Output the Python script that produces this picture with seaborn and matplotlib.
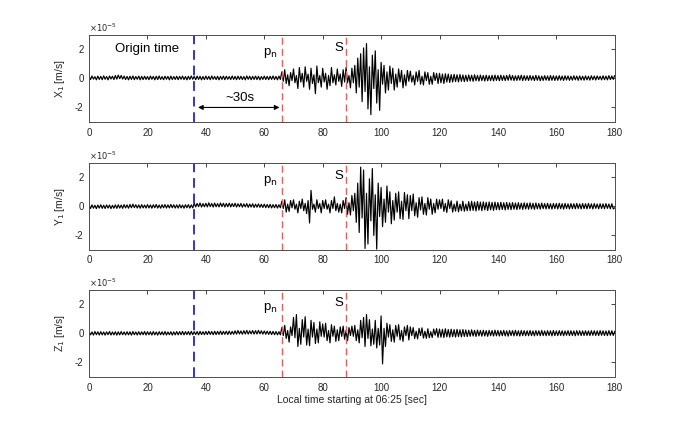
import numpy as np
import matplotlib
matplotlib.use('Agg')
import matplotlib.pyplot as plt
import seaborn as sns

sns.set_style('white')
plt.rcParams['font.family'] = ['Liberation Sans', 'DejaVu Sans']

# peak values, one every 0.5 s, in units of 1e-5 m/s
x_vals = [
    0.15,-0.08,0.17,-0.05,0.12,-0.10,0.16,-0.07,0.14,-0.09,0.18,-0.06,0.13,-0.10,0.17,-0.04,0.15,-0.08,0.20,-0.05,
    0.23,-0.02,0.20,-0.05,0.16,-0.08,0.14,-0.10,0.15,-0.07,0.17,-0.09,0.13,-0.06,0.16,-0.10,0.14,-0.08,0.15,-0.07,
    0.13,-0.09,0.16,-0.06,0.14,-0.10,0.15,-0.08,0.17,-0.07,0.12,-0.09,0.15,-0.06,0.14,-0.10,0.16,-0.08,0.13,-0.07,
    0.15,-0.09,0.14,-0.06,0.16,-0.08,0.13,-0.10,0.15,-0.07,0.17,-0.06,0.14,-0.09,0.16,-0.07,0.15,-0.10,0.13,-0.08,
    0.16,-0.07,0.14,-0.09,0.17,-0.06,0.13,-0.08,0.15,-0.10,0.14,-0.07,0.16,-0.09,0.15,-0.06,0.13,-0.08,0.17,-0.07,
    0.14,-0.09,0.16,-0.07,0.15,-0.08,0.13,-0.10,0.17,-0.06,0.15,-0.09,0.14,-0.07,0.16,-0.08,0.15,-0.10,0.13,-0.07,
    0.16,-0.08,0.14,-0.09,0.15,-0.07,0.17,-0.08,0.14,-0.10,0.16,-0.07,0.45,-0.20,0.60,-0.35,0.25,-0.50,0.40,-0.15,
    0.65,-0.30,0.20,-0.70,0.75,-0.25,0.35,-0.60,0.80,-0.20,0.30,-0.75,0.70,-0.35,0.25,-1.05,0.85,-0.30,0.20,-0.60,
    0.70,-0.25,0.35,-0.75,0.20,-0.50,0.75,-0.30,0.25,-0.45,0.65,-0.20,0.30,-0.55,0.60,-0.25,0.75,-0.30,0.20,-0.65,
    0.70,-0.30,0.90,-1.00,1.40,-0.60,1.70,-1.60,2.10,-0.90,2.40,-2.10,0.80,-2.50,1.60,-0.70,1.90,-1.70,0.60,-2.20,
    1.10,-0.40,0.90,-1.00,0.45,-0.80,0.85,-0.35,0.70,-0.80,0.30,-0.60,0.65,-0.25,0.55,-0.65,0.25,-0.50,0.55,-0.20,
    0.50,-0.25,0.20,-0.45,0.45,-0.20,0.55,-0.40,0.15,-0.45,0.45,-0.15,0.40,-0.40,0.15,-0.40,0.40,-0.15,0.35,-0.35,
    0.35,-0.30,0.30,-0.35,0.32,-0.25,0.30,-0.28,0.26,-0.25,0.28,-0.22,0.25,-0.24,0.27,-0.20,0.24,-0.22,0.22,-0.20,
    0.24,-0.18,0.22,-0.20,0.25,-0.16,0.21,-0.18,0.23,-0.15,0.20,-0.18,0.22,-0.16,0.19,-0.15,0.21,-0.17,0.23,-0.14,
    0.20,-0.16,0.22,-0.14,0.19,-0.15,0.21,-0.13,0.25,-0.12,0.20,-0.15,0.18,-0.14,0.20,-0.12,0.22,-0.15,0.19,-0.13,
    0.18,-0.14,0.20,-0.12,0.17,-0.15,0.21,-0.13,0.18,-0.16,0.16,-0.14,0.19,-0.12,0.17,-0.15,0.20,-0.13,0.18,-0.14,
    0.17,-0.13,0.19,-0.12,0.16,-0.14,0.18,-0.11,0.17,-0.13,0.15,-0.12,0.18,-0.10,0.16,-0.13,0.17,-0.11,0.15,-0.12,
    0.17,-0.10,0.15,-0.12,0.18,-0.09,0.16,-0.11,0.17,-0.08,0.15,-0.10,0.18,-0.09,0.16,-0.10,0.19,-0.08,0.17,-0.07,
    0.20,
]

y_vals = [
    0.08,-0.15,0.10,-0.13,0.07,-0.16,0.09,-0.12,0.11,-0.14,0.08,-0.15,0.10,-0.12,0.09,-0.16,0.07,-0.13,0.10,-0.14,
    0.11,-0.12,0.09,-0.14,0.12,-0.11,0.10,-0.13,0.13,-0.10,0.15,-0.09,0.11,-0.12,0.10,-0.13,0.12,-0.11,0.09,-0.12,
    0.12,-0.11,0.10,-0.13,0.11,-0.10,0.13,-0.12,0.09,-0.13,0.11,-0.10,0.12,-0.12,0.10,-0.11,0.13,-0.10,0.11,-0.12,
    0.10,-0.12,0.12,-0.11,0.09,-0.13,0.11,-0.10,0.12,-0.12,0.10,-0.11,0.22,-0.04,0.20,-0.02,0.23,-0.05,0.19,-0.03,
    0.21,-0.04,0.24,-0.02,0.20,-0.05,0.22,-0.03,0.19,-0.04,0.23,-0.02,0.21,-0.05,0.20,-0.03,0.22,-0.04,0.19,-0.02,
    0.21,-0.05,0.18,-0.03,0.20,-0.06,0.17,-0.04,0.19,-0.07,0.16,-0.05,0.18,-0.08,0.15,-0.06,0.17,-0.07,0.14,-0.08,
    0.15,-0.09,0.13,-0.10,0.14,-0.11,0.12,-0.10,0.13,-0.12,0.11,-0.10,0.35,-0.15,0.45,-0.40,0.15,-0.35,0.40,-0.10,
    0.45,-0.20,0.15,-0.45,0.35,-0.15,0.50,-0.30,0.20,-0.50,0.40,-1.15,1.10,-0.20,0.15,-0.40,0.45,-0.15,0.20,-0.45,
    0.40,-0.15,0.45,-0.20,0.15,-0.45,0.40,-0.15,0.65,-0.30,0.20,-0.40,0.15,-0.45,0.40,-0.15,0.60,-0.55,0.25,-0.60,
    0.75,-0.30,0.90,-1.10,1.60,-1.80,2.70,-0.80,2.50,-2.90,0.90,-2.60,1.90,-1.00,2.60,-2.00,0.80,-2.95,1.60,-0.70,
    1.30,-1.40,0.50,-1.10,1.40,-0.40,1.00,-1.20,0.40,-0.95,0.90,-0.40,1.00,-0.85,0.35,-0.90,0.95,-0.30,0.80,-0.85,
    0.75,-0.30,0.85,-0.65,0.25,-0.75,0.60,-0.25,0.65,-0.55,0.20,-0.60,0.60,-0.20,0.50,-0.55,0.20,-0.45,0.50,-0.20,
    0.45,-0.15,0.50,-0.35,0.20,-0.42,0.45,-0.15,0.38,-0.40,0.15,-0.33,0.36,-0.38,0.15,-0.30,0.35,-0.34,0.15,-0.30,
    0.32,-0.30,0.35,-0.28,0.30,-0.32,0.33,-0.26,0.29,-0.30,0.31,-0.25,0.28,-0.29,0.30,-0.24,0.27,-0.28,0.29,-0.23,
    0.26,-0.24,0.28,-0.22,0.25,-0.25,0.27,-0.21,0.24,-0.23,0.26,-0.20,0.23,-0.22,0.25,-0.19,0.22,-0.21,0.24,-0.18,
    0.22,-0.20,0.24,-0.18,0.21,-0.21,0.23,-0.17,0.20,-0.19,0.22,-0.16,0.19,-0.18,0.21,-0.17,0.18,-0.19,0.20,-0.16,
    0.19,-0.18,0.21,-0.16,0.18,-0.19,0.20,-0.15,0.17,-0.18,0.19,-0.16,0.18,-0.17,0.20,-0.15,0.17,-0.18,0.19,-0.16,
    0.18,-0.17,0.20,-0.15,0.17,-0.18,0.19,-0.14,0.16,-0.17,0.18,-0.15,0.17,-0.16,0.19,-0.14,0.16,-0.17,0.18,-0.18,
    -0.10,
]

z_vals = [
    0.12,-0.10,0.10,-0.12,0.13,-0.09,0.11,-0.11,0.12,-0.10,0.10,-0.12,0.11,-0.09,0.13,-0.11,0.10,-0.10,0.12,-0.12,
    0.11,-0.10,0.13,-0.09,0.10,-0.11,0.12,-0.10,0.11,-0.12,0.13,-0.09,0.10,-0.11,0.12,-0.10,0.11,-0.09,0.13,-0.11,
    0.12,-0.09,0.11,-0.11,0.13,-0.10,0.10,-0.12,0.12,-0.09,0.11,-0.10,0.13,-0.11,0.10,-0.09,0.12,-0.12,0.11,-0.10,
    0.13,-0.10,0.12,-0.09,0.14,-0.10,0.12,-0.08,0.13,-0.10,0.14,-0.09,0.12,-0.08,0.13,-0.10,0.14,-0.08,0.12,-0.09,
    0.14,-0.08,0.15,-0.07,0.13,-0.09,0.15,-0.08,0.14,-0.07,0.16,-0.08,0.14,-0.06,0.15,-0.08,0.16,-0.07,0.14,-0.06,
    0.18,-0.05,0.20,-0.04,0.17,-0.06,0.19,-0.04,0.21,-0.05,0.18,-0.03,0.20,-0.05,0.19,-0.04,0.21,-0.03,0.18,-0.05,
    0.17,-0.06,0.16,-0.07,0.15,-0.08,0.14,-0.09,0.13,-0.10,0.12,-0.10,0.40,-0.15,0.55,-0.35,0.20,-0.60,0.45,-0.15,
    1.10,-0.30,1.30,-0.90,0.35,-0.75,0.95,-0.25,1.15,-0.80,0.30,-0.85,0.90,-0.25,0.75,-0.70,0.30,-0.65,0.80,-0.20,
    0.65,-0.25,0.70,-0.50,0.20,-0.65,0.60,-0.20,0.50,-0.55,0.25,-0.50,0.45,-0.20,0.50,-0.40,0.20,-0.50,0.40,-0.15,
    0.50,-0.20,0.55,-0.50,0.25,-0.65,0.90,-0.30,1.10,-0.90,1.30,-0.35,0.95,-0.85,0.30,-0.75,0.90,-1.00,0.35,-0.80,
    1.20,-2.10,0.35,-0.90,0.70,-0.25,0.60,-0.55,0.25,-0.60,0.55,-0.20,0.60,-0.45,0.20,-0.55,0.45,-0.15,0.55,-0.45,
    0.45,-0.15,0.40,-0.35,0.15,-0.38,0.35,-0.15,0.38,-0.32,0.15,-0.34,0.32,-0.30,0.12,-0.28,0.30,-0.12,0.33,-0.27,
    0.30,-0.26,0.28,-0.28,0.32,-0.24,0.27,-0.26,0.29,-0.23,0.26,-0.25,0.28,-0.22,0.25,-0.24,0.27,-0.21,0.24,-0.22,
    0.22,-0.20,0.25,-0.18,0.21,-0.21,0.23,-0.17,0.20,-0.19,0.22,-0.18,0.19,-0.20,0.21,-0.16,0.20,-0.18,0.22,-0.17,
    0.20,-0.18,0.19,-0.16,0.21,-0.17,0.18,-0.19,0.20,-0.15,0.19,-0.17,0.21,-0.16,0.18,-0.18,0.20,-0.15,0.19,-0.16,
    0.18,-0.16,0.20,-0.15,0.17,-0.17,0.19,-0.14,0.18,-0.16,0.20,-0.15,0.17,-0.16,0.19,-0.14,0.18,-0.17,0.20,-0.15,
    0.17,-0.15,0.19,-0.14,0.18,-0.16,0.17,-0.13,0.19,-0.15,0.18,-0.14,0.17,-0.16,0.19,-0.13,0.18,-0.15,0.17,-0.14,
    0.18,-0.14,0.17,-0.15,0.19,-0.13,0.18,-0.14,0.17,-0.15,0.19,-0.13,0.18,-0.14,0.17,-0.15,0.19,-0.13,0.18,-0.14,
    0.15,
]

channels = ['X$_1$ [m/s]', 'Y$_1$ [m/s]', 'Z$_1$ [m/s]']
traces = [x_vals, y_vals, z_vals]
origin_t = 36
pn_t = 66
s_t = 88
dt = 0.5
scale = 1e-5
xticks = [0, 20, 40, 60, 80, 100, 120, 140, 160, 180]
yticks = [-2, 0, 2]

fig = plt.figure(figsize=(6.8, 4.25), dpi=100)
edge = '#4d4d4d'
txt = '#262626'
bottoms = [0.713, 0.412, 0.113]

for i, (lab, vals) in enumerate(zip(channels, traces)):
    ax = fig.add_axes([0.131, bottoms[i], 0.773, 0.205])
    t = np.arange(len(vals)) * dt
    sns.lineplot(x=t, y=np.array(vals) * scale, ax=ax, color='black',
                 lw=0.85, estimator=None)
    ax.axvline(origin_t, color='#3535c8', ls=(0, (5, 3)), lw=1.4)
    ax.axvline(pn_t, color='#e06060', ls=(0, (5, 3)), lw=1.0)
    ax.axvline(s_t, color='#e06060', ls=(0, (5, 3)), lw=1.0)

    ax.set_xlim(0, 180)
    ax.set_ylim(-3e-5, 3e-5)
    ax.set_xticks(xticks)
    ax.set_xticklabels([str(v) for v in xticks])
    ax.set_yticks([v * scale for v in yticks])
    ax.set_yticklabels([str(v) for v in yticks])
    ax.tick_params(direction='in', length=3, width=0.6, top=True, right=True,
                   labelsize=7, colors=txt, pad=4)
    for sp in ax.spines.values():
        sp.set_color(edge)
        sp.set_linewidth(0.7)
    ax.set_ylabel(lab, fontsize=7.5, color=txt, labelpad=6)
    ax.text(0, 1.01, r'$\times10^{-5}$', transform=ax.transAxes,
            fontsize=6, color=txt, ha='left', va='bottom')

    ax.text(64.5, 1.75e-5, r'p$_{\rm n}$', fontsize=9.5, ha='right',
            va='center', color='black')
    ax.text(85.5, 2.1e-5, 'S', fontsize=9.5, ha='center', va='center',
            color='black')
    if i == 0:
        ax.text(19.8, 2.0e-5, 'Origin time', fontsize=9.5, ha='center',
                va='center', color='black')
        ax.annotate('', xy=(37.3, -2e-5), xytext=(65.2, -2e-5),
                    arrowprops=dict(arrowstyle='<|-|>', lw=0.8, color='black',
                                    mutation_scale=7, shrinkA=0, shrinkB=0))
        ax.text(51.5, -1.35e-5, '~30s', fontsize=9.5, ha='center',
                va='center', color='black')
    if i == 2:
        ax.set_xlabel('Local time starting at 06:25 [sec]', fontsize=7.5,
                      color=txt, labelpad=2)

fig.savefig('out.png', dpi=100, facecolor='white')
